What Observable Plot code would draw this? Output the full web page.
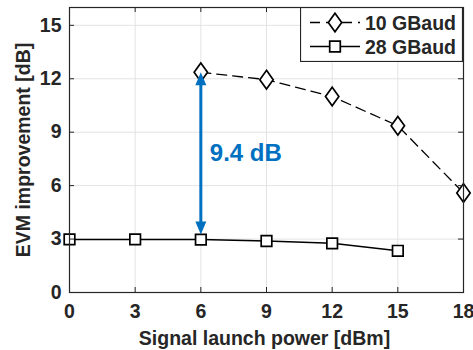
<!DOCTYPE html>
<html>
<head>
<meta charset="utf-8">
<script src="https://cdn.jsdelivr.net/npm/d3@7"></script>
<script src="https://cdn.jsdelivr.net/npm/@observablehq/plot@0.6"></script>
<style>
  html, body { margin: 0; padding: 0; background: #fff; }
  #chart { position: relative; width: 473px; height: 350px; }
  #legend { position: absolute; left: 300px; top: 7px; }
</style>
</head>
<body>
<div id="chart"></div>
<script>
// ---- data ----
const power10 = [6, 9, 12, 15, 18];
const evm10 = [12.36, 11.95, 11.0, 9.36, 5.59];
const power28 = [0, 3, 6, 9, 12, 15];
const evm28 = [2.98, 2.98, 2.97, 2.89, 2.76, 2.34];
const seriesNames = ["10 GBaud", "28 GBaud"];
const xTicks = [0, 3, 6, 9, 12, 15, 18];
const yTicks = [0, 3, 6, 9, 12, 15];
const annotationText = "9.4 dB";
const annotationX = 6;
const xLabel = "Signal launch power [dBm]";
const yLabel = "EVM improvement [dB]";

const data10 = power10.map((x, i) => ({x, y: evm10[i]}));
const data28 = power28.map((x, i) => ({x, y: evm28[i]}));
// y1 = top (10 GBaud value), y2 = bottom (28 GBaud value)
const arrowSpan = [{x: annotationX, y1: evm10[power10.indexOf(annotationX)], y2: evm28[power28.indexOf(annotationX)]}];

const W = 473, H = 350, mL = 69, mR = 10, mT = 7, mB = 58;
const plotW = W - mL - mR, plotH = H - mT - mB;
const blue = "#0070C0";
const ink = "#262626";
const font = "'Liberation Sans', Arial, sans-serif";
const fs = 19.5;

const diamond = {draw(c) { c.moveTo(0, -9.3); c.lineTo(6.7, 0); c.lineTo(0, 9.3); c.lineTo(-6.7, 0); c.closePath(); }};
const square = {draw(c) { c.rect(-5.3, -5.3, 10.6, 10.6); }};
const headUp = {draw(c) { c.moveTo(0, 0); c.lineTo(5.5, 13); c.lineTo(-5.5, 13); c.closePath(); }};
const headDown = {draw(c) { c.moveTo(0, 0); c.lineTo(5.5, -13); c.lineTo(-5.5, -13); c.closePath(); }};

const plot = Plot.plot({
  width: W, height: H,
  marginLeft: mL, marginRight: mR, marginTop: mT, marginBottom: mB,
  style: {fontFamily: font, fontWeight: "bold", color: ink, background: "#fff"},
  x: {domain: [0, 18]},
  y: {domain: [0, 16]},
  marks: [
    Plot.gridX(xTicks, {stroke: "#e3e3e3", strokeOpacity: 1}),
    Plot.gridY(yTicks, {stroke: "#e3e3e3", strokeOpacity: 1}),
    Plot.line(data28, {x: "x", y: "y", stroke: "#000", strokeWidth: 1.5}),
    Plot.line(data10, {x: "x", y: "y", stroke: "#000", strokeWidth: 1.3, strokeDasharray: "10,6"}),
    Plot.dot(data28, {x: "x", y: "y", symbol: square, fill: "#fff", stroke: "#000", strokeWidth: 1.7}),
    Plot.dot(data10, {x: "x", y: "y", symbol: diamond, fill: "#fff", stroke: "#000", strokeWidth: 1.7}),
    Plot.ruleX(arrowSpan, {x: "x", y1: "y1", y2: "y2", stroke: blue, strokeWidth: 3, insetTop: 8, insetBottom: 12}),
    Plot.dot(arrowSpan, {x: "x", y: "y1", symbol: headUp, fill: blue, stroke: "none"}),
    Plot.dot(arrowSpan, {x: "x", y: "y2", symbol: headDown, fill: blue, stroke: "none", dy: -5}),
    Plot.text(arrowSpan, {x: d => d.x, y: d => (d.y1 + d.y2) / 2, text: () => annotationText, textAnchor: "start", dx: 9, dy: -3, fill: blue, fontSize: 24, fontWeight: "bold"}),
    Plot.frame({stroke: ink, strokeWidth: 1.2}),
    Plot.ruleX(xTicks, {stroke: ink, insetTop: plotH - 5}),
    Plot.ruleX(xTicks, {stroke: ink, insetBottom: plotH - 5}),
    Plot.ruleY(yTicks, {stroke: ink, insetRight: plotW - 5}),
    Plot.ruleY(yTicks, {stroke: ink, insetLeft: plotW - 5}),
    Plot.axisX(xTicks, {tickSize: 0, tickPadding: 12, fontSize: fs, fontWeight: "bold", label: null, fill: ink}),
    Plot.axisY(yTicks, {tickSize: 0, tickPadding: 8, fontSize: fs, fontWeight: "bold", label: null, fill: ink}),
    Plot.text([xLabel], {frameAnchor: "bottom", textAnchor: "middle", lineAnchor: "bottom", text: d => d, dy: 52, dx: -2, fontSize: fs, fontWeight: "bold", fill: ink}),
    Plot.text([yLabel], {frameAnchor: "left", textAnchor: "middle", lineAnchor: "middle", text: d => d, rotate: -90, dx: -45.5, dy: 0, fontSize: fs, fontWeight: "bold", fill: ink})
  ]
});
document.getElementById("chart").appendChild(plot);

// ---- legend ----
const lg = d3.select("#chart").append("svg").attr("id", "legend")
  .attr("width", 163).attr("height", 55)
  .style("font-family", font).style("font-weight", "bold");
lg.append("rect").attr("x", 0.5).attr("y", 0.5).attr("width", 162).attr("height", 54)
  .attr("fill", "#fff").attr("stroke", ink).attr("stroke-width", 1.2);
const rows = [
  {name: seriesNames[0], y: 15.5, dash: "10,6", sym: diamond},
  {name: seriesNames[1], y: 39.5, dash: null, sym: square}
];
rows.forEach(r => {
  lg.append("line").attr("x1", 10).attr("x2", 60).attr("y1", r.y).attr("y2", r.y)
    .attr("stroke", "#000").attr("stroke-width", 1.4).attr("stroke-dasharray", r.dash);
  const p = d3.path(); r.sym.draw(p);
  lg.append("path").attr("d", p.toString()).attr("transform", `translate(35,${r.y})`)
    .attr("fill", "#fff").attr("stroke", "#000").attr("stroke-width", 1.7);
  lg.append("text").attr("x", 65).attr("y", r.y).attr("dy", "0.36em")
    .attr("font-size", fs).attr("fill", ink).text(r.name);
});
</script>
</body>
</html>
